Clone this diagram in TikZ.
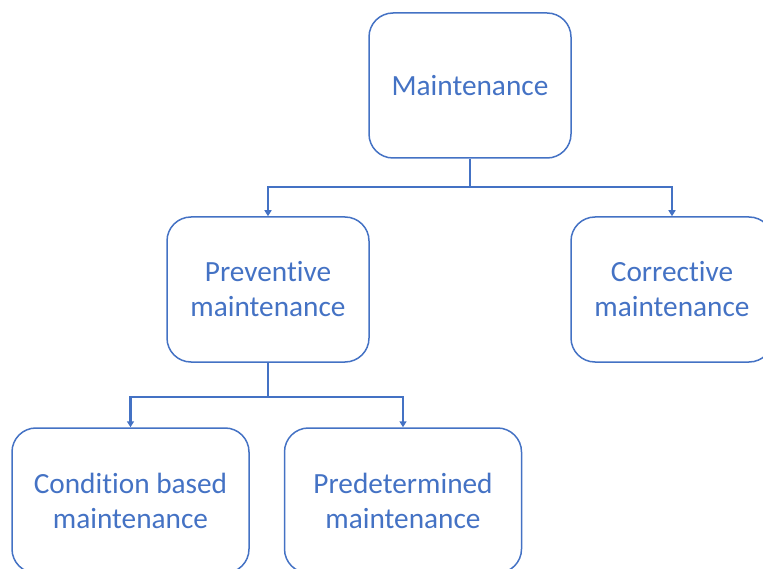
\documentclass[tikz,border=0pt]{standalone}
\usepackage{fontspec}
\setmainfont[Ligatures={NoCommon,NoRare,NoDiscretionary}]{Carlito}
\usetikzlibrary{arrows.meta}
\definecolor{officeblue}{HTML}{4472C4}
\tikzset{
  box/.style={draw=officeblue, line width=1.5pt, rounded corners=24pt, align=center,
    text=officeblue, font=\fontsize{29.3}{35}\selectfont, inner sep=0pt},
  topbox/.style={box, minimum width=202pt, minimum height=145pt},
  lowbox/.style={box, minimum width=237pt, minimum height=145pt},
  conn/.style={draw=officeblue, line width=2.4pt, -{Triangle[width=7pt,length=6pt]}}
}
\begin{document}
\begin{tikzpicture}[x=1pt, y=-1pt]
  \useasboundingbox (0,0) rectangle (763,569);
  \clip (0,0) rectangle (763,569);
  % tree of boxes
  \node[topbox] (maint) at (470,85.5) {Maintenance};
  \node[topbox] (prev) at (268,289.5) {Preventive\\maintenance};
  \node[topbox] (corr) at (672,289.5) {Corrective\\maintenance};
  \node[lowbox] (cond) at (130.5,500.5) {Condition based\\maintenance};
  \node[lowbox] (pred) at (403,500.5) {Predetermined\\maintenance};
  % elbow connectors
  \coordinate (fork1) at ([yshift=-28pt]maint.south);
  \coordinate (fork2) at ([yshift=-34pt]prev.south);
  \draw[conn] (maint.south) -- (fork1) -| (prev.north);
  \draw[conn] (fork1) -| (corr.north);
  \draw[conn] (prev.south) -- (fork2) -| (cond.north);
  \draw[conn] (fork2) -| (pred.north);
\end{tikzpicture}
\end{document}
